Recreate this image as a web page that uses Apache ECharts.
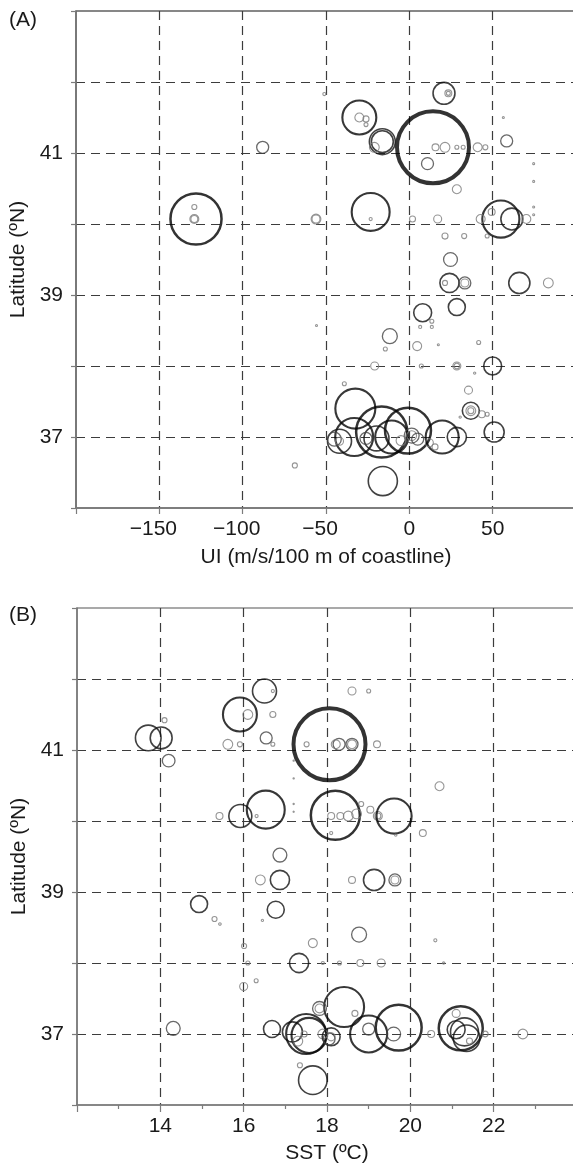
<!DOCTYPE html>
<html>
<head>
<meta charset="utf-8">
<script src="https://cdn.jsdelivr.net/npm/echarts@6/dist/echarts.min.js"></script>
<style>
  html, body { margin: 0; padding: 0; background: #fff; }
  #chart { width: 573px; height: 1165px; }
</style>
</head>
<body>
<div id="chart"></div>
<script>
// Station records: [upwelling index (m/s/100 m of coastline), latitude (ºN), abundance]
const uiPoints = [
  [-128, 40.07, 163], [-129, 40.07, 5], [-129, 40.07, 3], [-129, 40.24, 1.6],
  [-88, 41.08, 9], [-56, 40.07, 6], [-56, 40.07, 4], [-51, 41.83, 0.6],
  [-30, 41.5, 72], [-30, 41.5, 5], [-26, 41.48, 2.3], [-26, 41.4, 1],
  [-16.2, 41.16, 42], [-16.2, 41.16, 30], [-21, 41.08, 6],
  [14.2, 41.08, 324], [10.9, 40.85, 9], [15.7, 41.08, 3], [21.4, 41.08, 6],
  [28.5, 41.08, 1], [32.3, 41.08, 1], [20.8, 41.84, 30], [23.4, 41.84, 3], [23.4, 41.84, 1],
  [41, 41.08, 5], [45.6, 41.08, 1.6], [58.4, 41.17, 9], [56.4, 41.5, 0.25],
  [28.5, 40.49, 5], [-23.2, 40.17, 90], [-23.2, 40.07, 0.6],
  [1.9, 40.07, 2.3], [17, 40.07, 4], [21.4, 39.83, 2.3], [32.9, 39.83, 1.6], [46.7, 39.83, 1],
  [54.9, 40.07, 86], [61.5, 40.07, 30], [49.4, 40.17, 3], [42.8, 40.07, 5], [70.2, 40.07, 5],
  [74.6, 40.85, 0.25], [74.6, 40.6, 0.25], [74.6, 40.24, 0.25], [74.6, 40.13, 0.25],
  [24.7, 39.5, 12], [24.1, 39.17, 23], [21.4, 39.17, 1.6], [33.3, 39.17, 9], [33.3, 39.17, 4],
  [66, 39.17, 28], [83.4, 39.17, 6],
  [8, 38.75, 20], [28.5, 38.83, 18], [13.5, 38.63, 1], [6.5, 38.55, 0.6], [13.5, 38.55, 0.6],
  [-11.7, 38.42, 14], [-14.4, 38.24, 1], [4.7, 38.28, 5], [17.4, 38.3, 0.25], [41.6, 38.33, 1],
  [-55.7, 38.57, 0.25],
  [-20.8, 38.0, 4], [7.2, 38.0, 1], [28.5, 38.0, 4], [28.5, 38.0, 2], [50, 38.0, 20], [39.2, 37.9, 0.3],
  [-39, 37.75, 1], [35.5, 37.66, 4],
  [36.9, 37.37, 18], [36.9, 37.37, 6], [36.9, 37.37, 2.3], [43.5, 37.32, 3], [46.7, 37.32, 1],
  [30.5, 37.28, 0.3], [50.9, 37.07, 25],
  [-32.4, 37.4, 100], [-33.1, 37.0, 90], [-16.6, 37.07, 163], [-0.8, 37.09, 132],
  [-10.6, 37.0, 68], [-19.7, 36.98, 39], [19.7, 37.0, 68], [28.5, 37.0, 23],
  [-15.9, 36.38, 53], [-41.9, 36.94, 36], [-41.9, 36.94, 4],
  [1.4, 37.02, 14], [1.4, 37.02, 6], [15.4, 36.86, 2.3],
  [-45, 36.97, 12], [-26, 36.98, 9], [-5, 36.95, 6], [5, 36.97, 9], [12, 36.92, 4],
  [-68.7, 36.6, 1.6]
];

// Station records: [sea surface temperature (ºC), latitude (ºN), abundance]
const sstPoints = [
  [13.71, 41.17, 41], [14.02, 41.17, 30], [14.1, 41.42, 1.6], [14.2, 40.85, 10],
  [15.91, 41.5, 72], [16.1, 41.5, 6], [16.5, 41.83, 36], [16.7, 41.83, 0.6],
  [16.7, 41.5, 2.3], [16.54, 41.17, 9], [16.7, 41.08, 1], [15.62, 41.08, 6], [15.91, 41.08, 1.6],
  [18.06, 41.08, 324], [17.51, 41.08, 1.6], [18.29, 41.08, 9], [18.6, 41.08, 9], [18.6, 41.08, 5],
  [18.21, 41.08, 5], [18.6, 41.83, 4], [19.0, 41.83, 1], [19.2, 41.08, 3], [20.7, 40.49, 5],
  [17.2, 40.85, 0.1], [17.2, 40.6, 0.1], [17.2, 40.24, 0.1], [17.2, 40.13, 0.1],
  [16.53, 40.16, 90], [15.92, 40.07, 33], [15.42, 40.07, 3], [16.31, 40.07, 0.6],
  [18.2, 40.08, 150], [18.1, 40.07, 3], [18.32, 40.07, 3], [18.51, 40.07, 6], [18.71, 40.1, 6],
  [18.82, 40.24, 1.6], [19.04, 40.16, 3], [19.22, 40.07, 5], [19.22, 40.07, 2.3],
  [19.61, 40.07, 77], [20.3, 39.83, 3], [19.65, 39.8, 0.3], [18.1, 39.83, 0.6],
  [16.87, 39.52, 12], [16.4, 39.17, 6], [16.87, 39.17, 23], [18.6, 39.17, 3],
  [19.13, 39.17, 28], [19.63, 39.17, 9], [19.63, 39.17, 4],
  [14.93, 38.83, 18], [15.3, 38.62, 1.6], [15.43, 38.55, 0.4], [16.77, 38.75, 18], [16.45, 38.6, 0.3],
  [18.77, 38.4, 14], [17.66, 38.28, 5], [16.01, 38.24, 1.6], [20.6, 38.32, 0.6],
  [17.33, 38.0, 23], [16.1, 38.0, 1], [17.9, 38.0, 0.6], [18.3, 38.0, 1], [18.8, 38.0, 3],
  [19.3, 38.0, 4], [20.8, 38.0, 0.3],
  [16.0, 37.67, 4], [16.3, 37.75, 1],
  [18.41, 37.38, 100], [17.82, 37.36, 12], [17.82, 37.36, 5], [18.67, 37.29, 2.3],
  [14.31, 37.08, 12], [16.68, 37.07, 18], [17.17, 37.03, 25], [17.5, 37.0, 100], [17.57, 36.98, 77],
  [17.3, 36.9, 6], [17.45, 37.0, 2.3], [17.9, 37.0, 6],
  [18.1, 36.96, 20], [18.1, 36.96, 4], [18.05, 36.93, 9],
  [19.0, 37.0, 86], [19.0, 37.07, 9], [19.72, 37.09, 132], [19.6, 37.0, 12], [20.5, 37.0, 3],
  [21.21, 37.08, 121], [21.1, 37.06, 20], [21.3, 37.03, 49], [21.35, 36.94, 44], [21.42, 36.9, 2.3],
  [21.1, 37.29, 4], [21.8, 37.0, 2], [22.7, 37.0, 6],
  [17.66, 36.35, 51], [17.35, 36.56, 1.6]
];

// Labelled ticks
const latTicks = [37, 39, 41];
const uiTicks = [-150, -100, -50, 0, 50];
const sstTicks = [14, 16, 18, 20, 22];

const FONT = 'Liberation Sans, Arial, sans-serif';
const TEXT = '#1a1a1a';
const AXIS = '#7c7c7c';

// bubble diameter from abundance
const diameter = (ab) => 4 * Math.sqrt(ab);

// heavier, darker rings for larger bubbles
function ringStyle(ab) {
  const d = diameter(ab);
  let c, w;
  if (d >= 60) { c = '#000'; w = 4; }
  else if (d >= 44) { c = '#000'; w = 2.5; }
  else if (d >= 30) { c = '#050505'; w = 2.1; }
  else if (d >= 16) { c = '#111'; w = 1.6; }
  else if (d >= 10) { c = '#444'; w = 1.3; }
  else { c = '#7a7a7a'; w = 1.1; }
  return { color: 'rgba(0,0,0,0)', borderColor: c, borderWidth: w };
}

function toData(points) {
  return points.map(p => ({ value: p, itemStyle: ringStyle(p[2]) }));
}

const dashed = { show: true, showMinLine: false, showMaxLine: false,
  lineStyle: { color: '#3c3c3c', width: 1.2, type: [9, 6] } };

function latAxis(gridIndex) {
  return {
    type: 'value', gridIndex, min: 36, max: 43, interval: 1,
    name: 'Latitude (ºN)', nameLocation: 'middle', nameGap: 39,
    nameTextStyle: { fontFamily: FONT, fontSize: 21, color: TEXT },
    axisLine: { show: true, onZero: false, lineStyle: { color: AXIS, width: 1.5 } },
    axisTick: { show: true, length: 5, lineStyle: { color: AXIS, width: 1.2 } },
    axisLabel: {
      margin: 13, fontFamily: FONT, fontSize: 21, color: TEXT,
      formatter: v => latTicks.includes(v) ? String(v) : ''
    },
    splitLine: dashed
  };
}

function signedLabel(v) {
  if (v < 0) return '{neg|\u2212' + Math.abs(v) + '}';
  return String(v);
}

const chart = echarts.init(document.getElementById('chart'), null, { renderer: 'canvas' });

chart.setOption({
  animation: false,
  backgroundColor: '#fff',
  textStyle: { fontFamily: FONT },
  grid: [
    { left: 76, top: 11, width: 500, height: 497, show: true, borderColor: '#111', borderWidth: 1.2,
      outerBoundsMode: 'none', containLabel: false },
    { left: 77, top: 608, width: 500, height: 497, show: true, borderColor: '#555', borderWidth: 1.2,
      outerBoundsMode: 'none', containLabel: false }
  ],
  xAxis: [
    {
      type: 'value', gridIndex: 0, min: -200, max: 100, interval: 50,
      name: 'UI (m/s/100 m of coastline)', nameLocation: 'middle', nameGap: 39,
      nameTextStyle: { fontFamily: FONT, fontSize: 21, color: TEXT },
      axisLine: { show: true, onZero: false, lineStyle: { color: AXIS, width: 1.5 } },
      axisTick: { show: true, length: 6, lineStyle: { color: AXIS, width: 1.2 } },
      axisLabel: {
        margin: 11, fontFamily: FONT, fontSize: 21, color: TEXT,
        formatter: v => uiTicks.includes(v) ? signedLabel(v) : '',
        rich: { neg: { fontFamily: FONT, fontSize: 21, color: TEXT, padding: [0, 12, 0, 0] } }
      },
      splitLine: dashed
    },
    {
      type: 'value', gridIndex: 1, min: 12, max: 24, interval: 2,
      name: 'SST (ºC)', nameLocation: 'middle', nameGap: 38,
      nameTextStyle: { fontFamily: FONT, fontSize: 21, color: TEXT },
      axisLine: { show: true, onZero: false, lineStyle: { color: AXIS, width: 1.5 } },
      axisTick: { show: true, length: 7, lineStyle: { color: AXIS, width: 1.2 } },
      minorTick: { show: true, splitNumber: 2, length: 4, lineStyle: { color: AXIS, width: 1.2 } },
      axisLabel: {
        margin: 11, fontFamily: FONT, fontSize: 21, color: TEXT,
        formatter: v => sstTicks.includes(v) ? String(v) : ''
      },
      splitLine: dashed
    }
  ],
  yAxis: [latAxis(0), latAxis(1)],
  series: [
    { type: 'scatter', xAxisIndex: 0, yAxisIndex: 0, silent: true,
      symbol: 'circle', symbolSize: v => diameter(v[2]), data: toData(uiPoints) },
    { type: 'scatter', xAxisIndex: 1, yAxisIndex: 1, silent: true,
      symbol: 'circle', symbolSize: v => diameter(v[2]), data: toData(sstPoints) }
  ],
  graphic: [
    { type: 'text', left: 9, top: 10, style: { text: '(A)', font: '21px ' + FONT, fill: TEXT } },
    { type: 'text', left: 9, top: 605, style: { text: '(B)', font: '21px ' + FONT, fill: TEXT } }
  ]
});
</script>
</body>
</html>
